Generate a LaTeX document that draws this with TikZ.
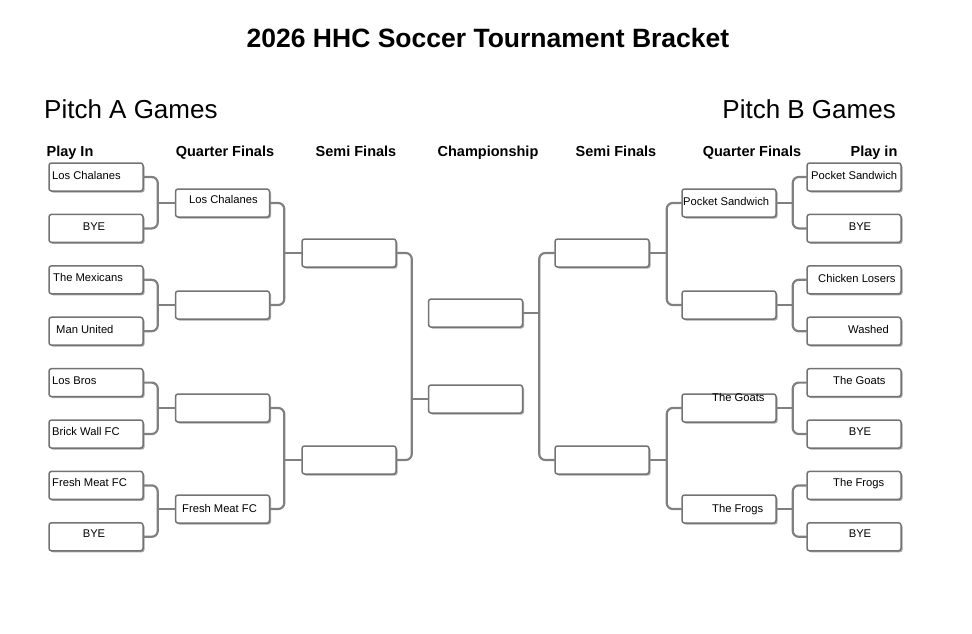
\documentclass[tikz,border=0pt]{standalone}
\usepackage{fontspec}
\setmainfont{Liberation Sans}
\usetikzlibrary{shadows}
\begin{document}
\begin{tikzpicture}[x=1pt, y=-1pt, line join=round, line cap=round,
	slot/.style={draw=black!55, line width=1.5pt, rounded corners=2.5pt, minimum width=94pt, minimum height=28pt, inner sep=0pt, fill=white,
		drop shadow={shadow xshift=1.5pt, shadow yshift=-1.5pt, fill=black!35, opacity=1}},
	wire/.style={draw=black!50, line width=2.2pt, rounded corners=6pt},
	team/.style={font=\fontsize{11.2}{13}\selectfont, inner sep=0pt, text height=8pt, text depth=0pt},
	stage/.style={font=\fontsize{14.5}{17}\selectfont\bfseries, inner sep=0pt, anchor=base},
	pitch/.style={font=\fontsize{26}{30}\selectfont, inner sep=0pt}]
	\useasboundingbox (0,0) rectangle (972,634);
	% titles
	\node[font=\fontsize{26.5}{30}\selectfont\bfseries, inner sep=0pt] (title) at (488,38) {2026 HHC Soccer Tournament Bracket};
	\node[pitch, anchor=west] (pitchA) at (44,109) {Pitch A Games};
	\node[pitch, anchor=east] (pitchB) at (896,109) {Pitch B Games};
	\foreach \n/\x/\t in {hpa/70/Play In, hqa/225/Quarter Finals, hsa/356/Semi Finals, hch/488/Championship,
		hsb/616/Semi Finals, hqb/752/Quarter Finals, hpb/874/Play in}{
		\node[stage] (\n) at (\x,156) {\t};}
	% boxes
	\foreach \i in {1,...,8}{
		\node[slot] (pa\i) at (96,{177+51.4*(\i-1)}) {};
		\node[slot] (pb\i) at (854,{177+51.4*(\i-1)}) {};}
	\foreach \i/\y in {1/203,2/305,3/408,4/509}{
		\node[slot] (qa\i) at (222.5,\y) {};
		\node[slot] (qb\i) at (729,\y) {};}
	\foreach \i/\y in {1/253,2/460}{
		\node[slot] (sa\i) at (349,\y) {};
		\node[slot] (sb\i) at (602,\y) {};}
	\node[slot] (ch1) at (475.5,313) {};
	\node[slot] (ch2) at (475.5,399) {};
	% connectors
	\foreach \a/\b/\q in {1/2/1,3/4/2,5/6/3,7/8/4}{
		\draw[wire] (pa\a.east) -| ([xshift=-17pt]qa\q.west) |- (pa\b.east);
		\draw[wire] ([xshift=-17pt]qa\q.west) -- (qa\q.west);
		\draw[wire] (pb\a.west) -| ([xshift=16pt]qb\q.east) |- (pb\b.west);
		\draw[wire] ([xshift=16pt]qb\q.east) -- (qb\q.east);}
	\foreach \a/\b/\s in {1/2/1,3/4/2}{
		\draw[wire] (qa\a.east) -| ([xshift=-17pt]sa\s.west) |- (qa\b.east);
		\draw[wire] ([xshift=-17pt]sa\s.west) -- (sa\s.west);
		\draw[wire] (qb\a.west) -| ([xshift=17pt]sb\s.east) |- (qb\b.west);
		\draw[wire] ([xshift=17pt]sb\s.east) -- (sb\s.east);}
	\draw[wire] (sa1.east) -| ([xshift=-16pt]ch2.west) |- (sa2.east);
	\draw[wire] ([xshift=-16pt]ch2.west) -- (ch2.west);
	\draw[wire] (sb1.west) -| ([xshift=16pt]ch1.east) |- (sb2.west);
	\draw[wire] ([xshift=16pt]ch1.east) -- (ch1.east);
	% team names
	\foreach \n/\a/\x/\y/\t in {ta1/west/52/175/Los Chalanes, ta2/center/94/226/BYE, ta3/west/53/277/The Mexicans,
		ta4/west/56/329/Man United, ta5/west/52/380/Los Bros, ta6/west/52/431/Brick Wall FC,
		ta7/west/52/482/Fresh Meat FC, ta8/center/94/533/BYE,
		tqa1/west/189/199/Los Chalanes, tqa4/west/182/508/Fresh Meat FC,
		tb1/west/811/175/Pocket Sandwich, tb2/center/860/226/BYE, tb3/west/818/278/Chicken Losers,
		tb4/west/848/329/Washed, tb5/west/833/380/The Goats, tb6/center/860/431/BYE,
		tb7/west/833/482/The Frogs, tb8/center/860/533/BYE,
		tqb1/west/683/201/Pocket Sandwich, tqb3/west/712/397/The Goats, tqb4/west/712/508/The Frogs}{
		\node[team, anchor=\a] (\n) at (\x,\y) {\t};}
\end{tikzpicture}
\end{document}
